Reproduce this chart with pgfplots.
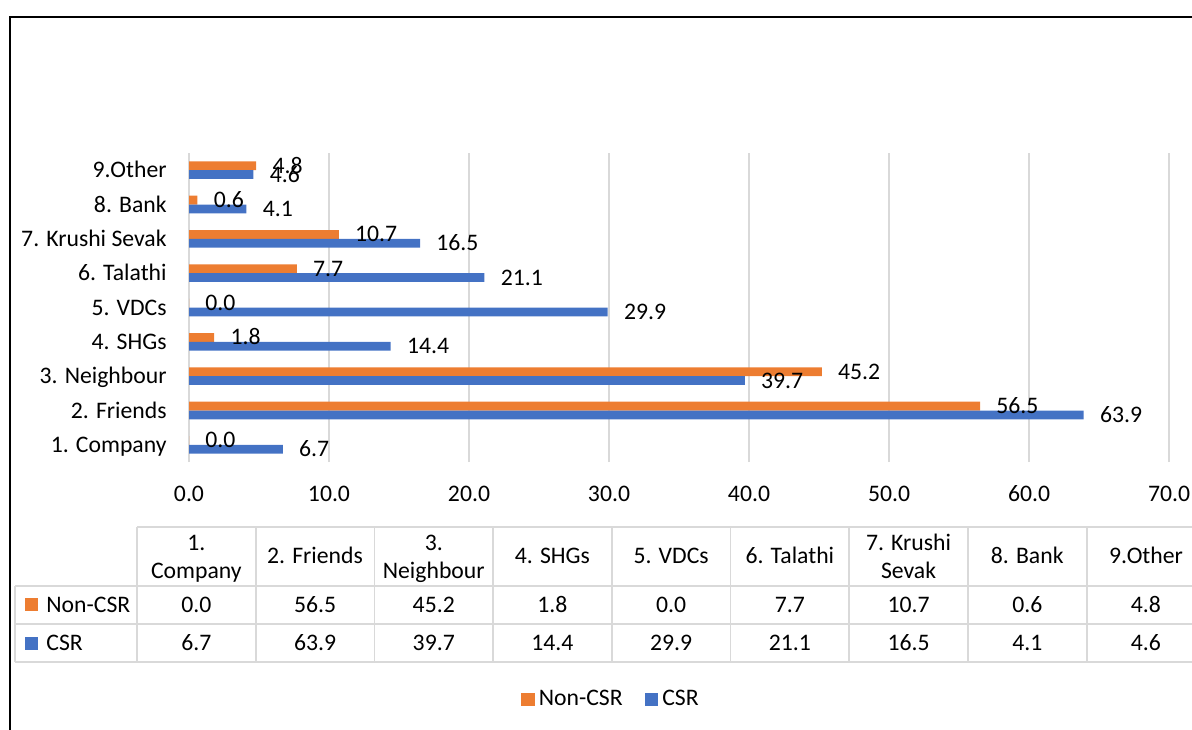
\documentclass[border=0pt]{standalone}
\usepackage{pgfplots}
\pgfplotsset{compat=1.18}
\usepackage{fontspec}
\setmainfont{Carlito}
\definecolor{orangeC}{HTML}{ED7D31}
\definecolor{blueC}{HTML}{4472C4}
\definecolor{gridC}{HTML}{D9D9D9}
\newcommand{\cfont}{\fontsize{11.85}{14}\selectfont}
\begin{document}
\cfont
\begin{tikzpicture}[font=\cfont]
\useasboundingbox (0pt,0pt) rectangle (596pt,-364.5pt);
\clip (0pt,0pt) rectangle (596pt,-364.5pt);
\begin{scope}[x=0.5pt,y=-0.5pt]
  % frame
  \draw[line width=1pt,black] (9.5,760) -- (9.5,17) -- (1220,17);
  % table grid
  \begin{scope}[draw=gridC,line width=0.9pt]
    \draw (137,527) -- (1220,527);
    \draw (15,586) -- (1220,586);
    \draw (15,624) -- (1220,624);
    \draw (15,662) -- (1220,662);
    \draw (15,586) -- (15,662);
    \foreach \i in {0,...,9} {
      \draw ({137+118.7*\i},527) -- ({137+118.7*\i},662);
    }
  \end{scope}
  % header
  \begin{scope}[every node/.style={inner sep=0pt,anchor=base,text=black}]
    \node at (196.35,550) {1.};
    \node at (196.35,578) {Company};
    \node at (315.05,563) {2. Friends};
    \node at (433.75,550) {3.};
    \node at (433.75,578) {Neighbour};
    \node at (552.45,563) {4. SHGs};
    \node at (671.15,563) {5. VDCs};
    \node at (789.85,563) {6. Talathi};
    \node at (908.55,550) {7. Krushi};
    \node at (908.55,578) {Sevak};
    \node at (1027.25,563) {8. Bank};
    \node at (1145.95,563) {9.Other};
    % rows
    \fill[orangeC] (25,598) rectangle (38,611);
    \fill[blueC] (25,637) rectangle (38,650);
    \node[anchor=base west] at (46,612) {Non-CSR};
    \node[anchor=base west] at (46,650) {CSR};
    \foreach \v [count=\j from 0] in {0.0,56.5,45.2,1.8,0.0,7.7,10.7,0.6,4.8} {
      \node at ({196.35+118.7*\j},612) {\v};
    }
    \foreach \v [count=\j from 0] in {6.7,63.9,39.7,14.4,29.9,21.1,16.5,4.1,4.6} {
      \node at ({196.35+118.7*\j},650) {\v};
    }
  \end{scope}
\end{scope}
\begin{axis}[
  at={(94.5pt,-231pt)}, anchor=south west,
  scale only axis, width=490pt, height=154.5pt,
  xmin=0, xmax=70, ymin=-0.5, ymax=8.5,
  xbar, bar width=4.4pt,
  axis line style={draw=none},
  major tick length=0pt, tick style={draw=none},
  xmajorgrids, grid style={gridC, line width=0.9pt},
  xtick={0,10,...,70},
  ytick={0,...,8},
  yticklabels={1. Company,2. Friends,3. Neighbour,4. SHGs,5. VDCs,6. Talathi,7. Krushi Sevak,8. Bank,9.Other},
  /pgf/number format/assume math mode=true,
  xticklabel style={/pgf/number format/.cd,fixed,fixed zerofill,precision=1,/tikz/.cd,anchor=base,inner sep=0pt,yshift=-19.5pt,font=\cfont,text=black},
  yticklabel style={anchor=base east,inner sep=0pt,xshift=-11pt,yshift=-3.75pt,font=\cfont,text=black},
  nodes near coords={\pgfmathprintnumber[fixed,fixed zerofill,precision=1,assume math mode=true]{\pgfplotspointmeta}},
  every node near coord/.append style={anchor=base west,inner sep=0pt,xshift=8pt,yshift=-3.75pt,font=\cfont,text=black},
  legend columns=2,
  legend image code/.code={\fill[#1] (0pt,-3.4pt) rectangle (6.8pt,3.4pt);},
  legend style={at={(0.4316,-0.768)},anchor=center,draw=none,fill=none,font=\cfont,
    /tikz/every even column/.append style={column sep=9pt}},
]
\addplot[fill=orangeC,draw=none,bar shift=2.2pt] coordinates {(0,0) (56.5,1) (45.2,2) (1.8,3) (0,4) (7.7,5) (10.7,6) (0.6,7) (4.8,8)};
\addplot[fill=blueC,draw=none,bar shift=-2.2pt] coordinates {(6.7,0) (63.9,1) (39.7,2) (14.4,3) (29.9,4) (21.1,5) (16.5,6) (4.1,7) (4.6,8)};
\legend{Non-CSR,CSR}
\end{axis}
\end{tikzpicture}
\end{document}
